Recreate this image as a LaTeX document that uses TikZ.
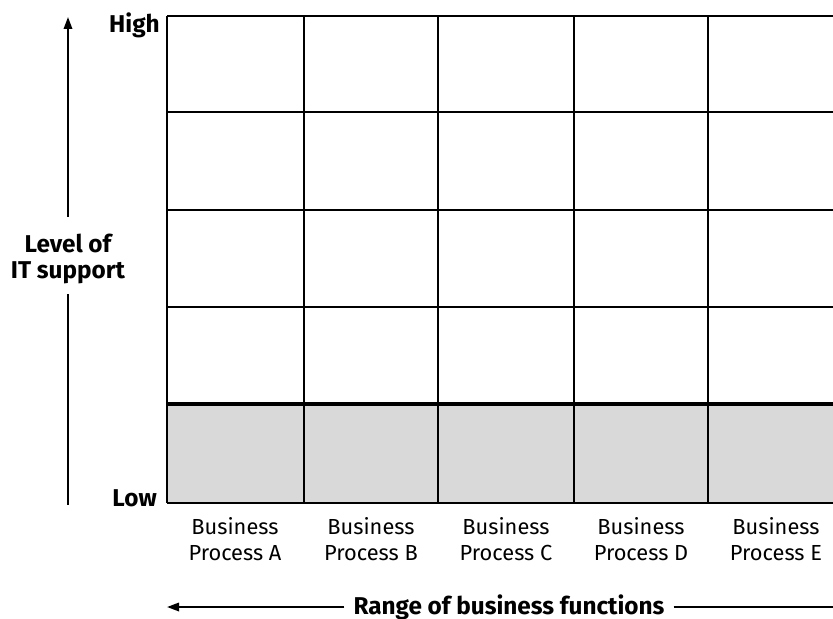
\documentclass[tikz,border=0pt]{standalone}
\usepackage{fontspec}
\setmainfont{Fira Sans}
\usetikzlibrary{positioning,calc,arrows.meta}

\tikzset{
  cellline/.style={line width=0.55mm},
  boldline/.style={line width=1.1mm},
  shade/.style={fill=black!15},
  axisarrow/.style={line width=0.5mm,-{Triangle[length=3mm,width=2.1mm]}},
  axisline/.style={line width=0.5mm},
  axislabel/.style={font=\fontsize{17.3}{18.4}\selectfont\bfseries,align=center,inner sep=0pt},
  proclabel/.style={font=\fontsize{15.5}{18.4}\selectfont,align=center,inner sep=0pt},
}

\begin{document}
\begin{tikzpicture}[x=0.25mm,y=-0.25mm]
  \useasboundingbox (0,0) rectangle (833,619);
  \clip (0,0) rectangle (833,619);

  % shaded bottom band
  \fill[shade] (167,404) rectangle (843,503);

  % grid
  \foreach \y in {16,112,210,307,503}
    \draw[cellline] (167,\y) -- (843,\y);
  \draw[boldline] (167,404) -- (843,404);
  \foreach \x in {167,304,438,574,708}
    \draw[cellline] (\x,16) -- (\x,503);

  % vertical axis
  \node[axislabel,anchor=base east] (high) at (160,33) {High};
  \node[axislabel,anchor=base east] (low) at (157,506) {Low};
  \node[axislabel] (level) at (68,259) {Level of\\IT support};
  \coordinate (vtop) at (68,17);
  \coordinate (vbot) at (68,505);
  \draw[axisarrow] ($(level.north)+(0,-17)$) -- (vtop);
  \draw[axisline] ($(level.south)+(0,10)$) -- (vbot);

  % process labels
  \foreach \x/\p in {235/A,371/B,506/C,641/D,776/E}
    \node[proclabel,anchor=north] (proc\p) at (\x,517) {Business\\Process \p};

  % horizontal axis
  \node[axislabel,anchor=base] (range) at (509,614) {Range of business functions};
  \coordinate (hleft) at (167,607);
  \coordinate (hright) at (843,607);
  \draw[axisarrow] ($(range.west |- hleft)+(-9,0)$) -- (hleft);
  \draw[axisline] ($(range.east |- hright)+(9,0)$) -- (hright);
\end{tikzpicture}
\end{document}
